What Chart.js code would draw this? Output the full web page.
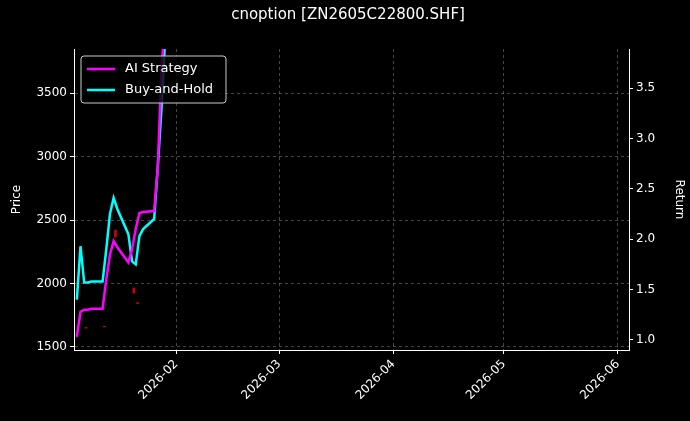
<!DOCTYPE html><html><head><script src="https://cdn.jsdelivr.net/npm/chart.js@4"></script>
<style>body{margin:0;background:#000}#w{width:690px;height:421px}</style></head><body><div id="w"><canvas id="c"></canvas></div>
<script>
const dates=['2026-01-05','2026-01-06','2026-01-07','2026-01-08','2026-01-09','2026-01-12','2026-01-13','2026-01-14','2026-01-15','2026-01-16','2026-01-19','2026-01-20','2026-01-21','2026-01-22','2026-01-23','2026-01-26','2026-01-27','2026-01-28','2026-01-29'];
const aiReturn=[1.03,1.28,1.30,1.30,1.31,1.31,1.60,1.85,1.98,1.92,1.77,1.90,2.10,2.26,2.27,2.28,2.72,3.69,4.2];
const bhReturn=[1.40,1.93,1.57,1.57,1.58,1.58,1.90,2.25,2.41,2.30,2.05,1.78,1.75,2.03,2.10,2.20,2.72,3.3,4.0];
const candleDates=['2026-01-07','2026-01-12','2026-01-15','2026-01-20','2026-01-21'];
const candleLow=[1648,1658,2365,1925,1842];
const candleHigh=[1654,1664,2420,1965,1850];
const monthTicks=['2026-02-01','2026-03-01','2026-04-01','2026-05-01','2026-06-01'];
const priceTicks=[1500,2000,2500,3000,3500];
const returnTicks=[1.0,1.5,2.0,2.5,3.0,3.5];
const T=s=>Date.parse(s+'T00:00:00Z');
const fmt=v=>{const d=new Date(v);return d.getUTCFullYear()+'-'+String(d.getUTCMonth()+1).padStart(2,'0');};
const legendBox={id:'lb',afterDraw(ch){const c=ch.ctx,a=ch.chartArea;const x=a.left+7,y=a.top+7,w=145,h=47;
c.save();c.fillStyle='rgba(0,0,0,0.8)';c.strokeStyle='#ccc';c.lineWidth=1;c.beginPath();c.roundRect(x,y,w,h,3);c.fill();c.stroke();
[['AI Strategy','#ff00ff'],['Buy-and-Hold','#00ffff']].forEach((e,i)=>{const yy=y+13+i*21;c.strokeStyle=e[1];c.lineWidth=2.5;c.beginPath();c.moveTo(x+6,yy);c.lineTo(x+34,yy);c.stroke();
c.fillStyle='#fff';c.font='13px "DejaVu Sans"';c.textBaseline='middle';c.fillText(e[0],x+44,yy);});c.restore();}};
const grid={color:'rgba(128,128,128,0.55)',tickColor:'#fff',tickLength:4,offset:false};
const border={color:'#fff',dash:[3,3]};
new Chart(document.getElementById('c'),{type:'line',data:{datasets:[
{type:'bar',label:'c',yAxisID:'y',data:candleDates.map((d,i)=>({x:T(d)+43200000,y:[candleLow[i],candleHigh[i]]})),backgroundColor:'#d00000',barThickness:2},
{label:'AI Strategy',yAxisID:'y1',data:dates.map((d,i)=>({x:T(d),y:aiReturn[i]})),borderColor:'#ff00ff',borderWidth:2.5,pointRadius:0,tension:0},
{label:'Buy-and-Hold',yAxisID:'y1',data:dates.map((d,i)=>({x:T(d),y:bhReturn[i]})),borderColor:'#00ffff',borderWidth:2.5,pointRadius:0,tension:0}]},
options:{animation:false,responsive:true,maintainAspectRatio:false,layout:{padding:{top:6,right:0,left:6,bottom:0}},
plugins:{legend:{display:false},tooltip:{enabled:false},title:{display:true,text:'cnoption [ZN2605C22800.SHF]',color:'#fff',font:{family:'DejaVu Sans',size:15,weight:'normal'},padding:{top:0,bottom:25}}},
scales:{x:{type:'linear',offset:false,min:T('2026-01-04')+20000000,max:T('2026-06-04'),afterBuildTicks:s=>{s.ticks=monthTicks.map(m=>({value:T(m)}));},
ticks:{color:'#fff',maxRotation:45,minRotation:45,font:{family:'DejaVu Sans',size:12},callback:v=>fmt(v)},grid,border,afterFit:s=>{s.height=71;}},
y:{position:'left',min:1476,max:3848,afterBuildTicks:s=>{s.ticks=priceTicks.map(v=>({value:v}));},ticks:{color:'#fff',font:{family:'DejaVu Sans',size:12},callback:v=>String(v)},grid,border,title:{display:true,text:'Price',color:'#fff',font:{family:'DejaVu Sans',size:12}},afterFit:s=>{s.width=68;}},
y1:{position:'right',min:0.9,max:3.888,afterBuildTicks:s=>{s.ticks=returnTicks.map(v=>({value:v}));},ticks:{color:'#fff',font:{family:'DejaVu Sans',size:12},callback:v=>v.toFixed(1)},grid:{drawOnChartArea:false,tickColor:'#fff',tickLength:4},border:{color:'#fff'},title:{display:true,text:'Return',color:'#fff',font:{family:'DejaVu Sans',size:12}},afterFit:s=>{s.width=61;}}}},
plugins:[legendBox]});
</script></body></html>
